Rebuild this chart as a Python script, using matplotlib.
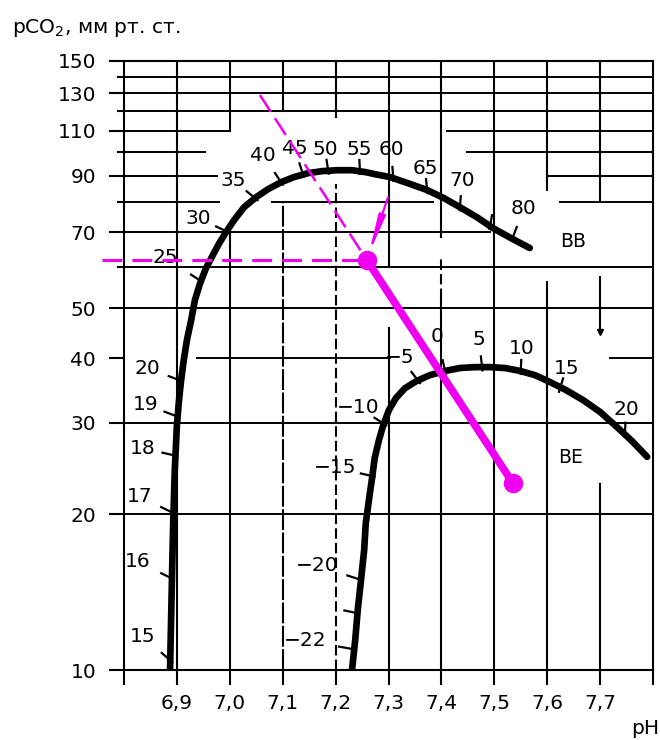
import numpy as np
import matplotlib.pyplot as plt
from matplotlib.ticker import FixedLocator, NullFormatter

# --- data ---
# buffer base curve (BB)
bb_ph = [6.887, 6.889, 6.891, 6.893, 6.896, 6.900, 6.904, 6.908, 6.913, 6.919,
         6.927, 6.934, 6.944, 6.955, 6.968, 6.980, 6.993, 7.008, 7.027, 7.050,
         7.072, 7.097, 7.121, 7.148, 7.174, 7.203, 7.231, 7.257, 7.274, 7.303,
         7.337, 7.373, 7.405, 7.435, 7.467, 7.498, 7.532, 7.567]
bb_pco2 = [10, 12.5, 15.6, 19.3, 24.3, 29.7, 33.2, 36.3, 39.7, 43.4,
           47.4, 51.8, 55.9, 59.7, 63.3, 66.7, 70.1, 73.9, 78.3, 81.9,
           84.8, 87.5, 89.5, 91.1, 91.9, 92.3, 92.3, 91.5, 90.7, 89.5,
           87.1, 84.5, 81.5, 78.3, 74.9, 71.3, 68.2, 65.3]

# base excess curve (BE)
be_ph = [7.231, 7.237, 7.242, 7.248, 7.254, 7.257, 7.263, 7.269, 7.274, 7.282,
         7.290, 7.301, 7.314, 7.331, 7.352, 7.378, 7.407, 7.435, 7.464, 7.492,
         7.520, 7.549, 7.577, 7.605, 7.636, 7.668, 7.700, 7.732, 7.760, 7.789]
be_pco2 = [10, 11.4, 13.1, 14.9, 17.05, 19.2, 21.3, 23.5, 25.7, 27.8,
           29.7, 31.8, 33.5, 35.0, 36.1, 37.1, 37.8, 38.3, 38.45, 38.45,
           38.3, 37.8, 37.1, 36.0, 34.7, 33.2, 31.5, 29.45, 27.7, 25.8]

# graduation marks on BB: point on curve, label text, label position
bb_tick_ph = [6.887, 6.889, 6.889, 6.893, 6.896, 6.904, 6.944, 6.993, 7.048, 7.097,
              7.138, 7.186, 7.246, 7.309, 7.373, 7.435, 7.492, 7.535]
bb_tick_pco2 = [10.45, 15.05, 20.2, 26.0, 31.0, 36.3, 56.5, 70.4, 81.5, 87.5,
                90.8, 92.1, 92.0, 89.2, 84.5, 78.3, 72.0, 68.5]
bb_tick_text = ['15', '16', '17', '18', '19', '20', '25', '30', '35', '40',
                '45', '50', '55', '60', '65', '70', '', '80']
bb_lab_ph = [6.836, 6.825, 6.830, 6.836, 6.840, 6.845, 6.878, 6.940, 7.006, 7.063,
             7.123, 7.180, 7.244, 7.305, 7.369, 7.439, 7.50, 7.556]
bb_lab_pco2 = [11.6, 16.2, 21.6, 26.8, 32.6, 38.3, 62.5, 74.6, 88.3, 98.6,
               101.5, 101, 101, 101, 93.1, 88.0, 80, 77.9]

# graduation marks on BE
be_tick_ph = [7.227, 7.237, 7.242, 7.268, 7.291, 7.356, 7.407, 7.477, 7.550, 7.624, 7.747]
be_tick_pco2 = [11.0, 12.9, 15.0, 23.7, 29.9, 36.2, 37.8, 38.4, 37.8, 34.9, 28.6]
be_tick_text = ['\u221222', '', '\u221220', '\u221215', '\u221210', '\u22125',
                '0', '5', '10', '15', '20']
be_lab_ph = [7.142, 7.16, 7.165, 7.199, 7.242, 7.322, 7.392, 7.471, 7.552, 7.636, 7.749]
be_lab_pco2 = [11.4, 13.4, 15.9, 24.6, 32.2, 40.2, 44.1, 43.4, 41.8, 38.3, 31.9]

# worked example (magenta)
pt_ph = [7.259, 7.535]
pt_pco2 = [61.9, 22.96]
guide_ph = 7.057          # start of dashed construction line
guide_pco2 = 128.9
arrow_ph = 7.299
arrow_pco2 = 81.8
hline_ph0 = 6.758

# axes ticks
ph_ticks = [6.8, 6.9, 7.0, 7.1, 7.2, 7.3, 7.4, 7.5, 7.6, 7.7, 7.8]
ph_labels = ['', '6,9', '7,0', '7,1', '7,2', '7,3', '7,4', '7,5', '7,6', '7,7', '']
pco2_ticks = [10, 20, 30, 40, 50, 70, 90, 110, 130, 150]
pco2_minor = [60, 80, 100, 120, 140]

# grid pieces of the printed nomogram: (pCO2, pH from, pH to)
h_grid = [(140, 6.8, 7.8), (130, 6.8, 7.8), (120, 6.8, 7.8),
          (110, 6.8, 7.0), (110, 7.41, 7.8),
          (100, 6.8, 6.953), (100, 7.448, 7.8),
          (90, 6.8, 6.976), (90, 7.6, 7.8),
          (80, 6.8, 6.98), (80, 7.08, 7.384), (80, 7.624, 7.8),
          (70, 6.8, 7.492), (60, 6.8, 7.8), (50, 6.8, 7.8),
          (40, 6.938, 7.303), (40, 7.719, 7.8),
          (30, 6.8, 7.8), (20, 6.8, 7.8)]
# (pH, pCO2 from, pCO2 to, style)
v_grid = [(6.9, 10, 150, '-'),
          (7.0, 110, 150, '-'), (7.0, 10, 70, '-'),
          (7.1, 120, 150, '-'), (7.1, 10, 80, 'dd'),
          (7.2, 117, 150, '-'), (7.2, 10, 87, 'd'),
          (7.3, 60, 150, '-'), (7.3, 10, 45.7, '-'),
          (7.4, 68.5, 150, '-'), (7.4, 52, 62.6, 'd'), (7.4, 10, 52, '-'),
          (7.5, 10, 150, '-'),
          (7.6, 84.5, 150, '-'), (7.6, 10, 56.2, '-'),
          (7.7, 80.7, 150, '-'), (7.7, 45, 57.4, '-'), (7.7, 10, 22.9, '-')]

MAG = '#f000f0'
FS = 14.5

fig = plt.figure(figsize=(6.6, 7.4), dpi=100)
ax = fig.add_axes([124 / 660, 70 / 740, 529 / 660, 609 / 740])
ax.set_yscale('log')
ax.set_xlim(6.8, 7.8)
ax.set_ylim(10, 150)

for s in ax.spines.values():
    s.set_linewidth(1.5)

ax.set_xticks(ph_ticks, labels=ph_labels)
ax.yaxis.set_major_locator(FixedLocator(pco2_ticks))
ax.yaxis.set_minor_locator(FixedLocator(pco2_minor))
ax.yaxis.set_minor_formatter(NullFormatter())
ax.set_yticklabels([str(v) for v in pco2_ticks])
ax.tick_params(axis='x', direction='out', length=11, width=1.5, pad=6, labelsize=FS)
ax.tick_params(axis='y', which='major', direction='out', length=11, width=1.5, pad=9, labelsize=FS)
ax.tick_params(axis='y', which='minor', direction='out', length=5, width=1.5)

# grid
for p, a, b in h_grid:
    ax.plot([a, b], [p, p], color='black', lw=1.4, zorder=1)
for x, a, b, st in v_grid:
    line, = ax.plot([x, x], [a, b], color='black', lw=1.5, zorder=1)
    if st == 'd':
        line.set_dashes((5, 2))
    elif st == 'dd':
        line.set_dashes((10, 1.2))
ax.plot([7.7], [45], marker='v', color='black', ms=4, zorder=1)

# curves
ax.plot(bb_ph, bb_pco2, color='black', lw=4.8, solid_capstyle='round',
        solid_joinstyle='round', zorder=3)
ax.plot(be_ph, be_pco2, color='black', lw=4.8, solid_capstyle='round',
        solid_joinstyle='round', zorder=3)

# graduation marks and numbers
inv = ax.transData.inverted()


def graduate(t_ph, t_pco2, texts, l_ph, l_pco2):
    tp = ax.transData.transform(np.column_stack([t_ph, t_pco2]))
    lp = ax.transData.transform(np.column_stack([l_ph, l_pco2]))
    for i in range(len(t_ph)):
        d = lp[i] - tp[i]
        d = d / np.hypot(*d)
        seg = inv.transform(np.array([tp[i] - 3 * d, tp[i] + 11 * d]))
        ax.plot(seg[:, 0], seg[:, 1], color='black', lw=1.6, zorder=3)
        if texts[i]:
            ax.text(l_ph[i], l_pco2[i], texts[i], ha='center', va='center',
                    fontsize=FS, zorder=4)


graduate(bb_tick_ph, bb_tick_pco2, bb_tick_text, bb_lab_ph, bb_lab_pco2)
graduate(be_tick_ph, be_tick_pco2, be_tick_text, be_lab_ph, be_lab_pco2)

ax.text(7.649, 67.3, 'BB', ha='center', va='center', fontsize=FS - 1)
ax.text(7.645, 25.7, 'BE', ha='center', va='center', fontsize=FS - 1)

# worked example
hl, = ax.plot([hline_ph0, pt_ph[0]], [pt_pco2[0], pt_pco2[0]], color=MAG, lw=2.2,
              clip_on=False, zorder=5)
hl.set_dashes((6.5, 3.3))
dl, = ax.plot([guide_ph, pt_ph[0]], [guide_pco2, pt_pco2[0]], color=MAG, lw=1.8, zorder=5)
dl.set_dashes((8, 3))
ax.plot(pt_ph, pt_pco2, color=MAG, lw=5.5, solid_capstyle='round', zorder=6)
ax.plot(pt_ph, pt_pco2, 'o', color=MAG, ms=13, zorder=7)
ax.annotate('', xy=(pt_ph[0], pt_pco2[0]), xytext=(arrow_ph, arrow_pco2),
            arrowprops=dict(arrowstyle='-|>,head_length=2.2,head_width=0.2',
                            color=MAG, lw=1.6, shrinkA=0, shrinkB=4,
                            mutation_scale=10), zorder=6)

fig.text(12 / 660, 1 - 33 / 740, 'pCO$_2$, мм рт. ст.', fontsize=FS, va='baseline', ha='left')
fig.text(645 / 660, 1 - 728 / 740, 'pH', fontsize=FS, va='center', ha='center')

fig.savefig('out.png', dpi=100)
